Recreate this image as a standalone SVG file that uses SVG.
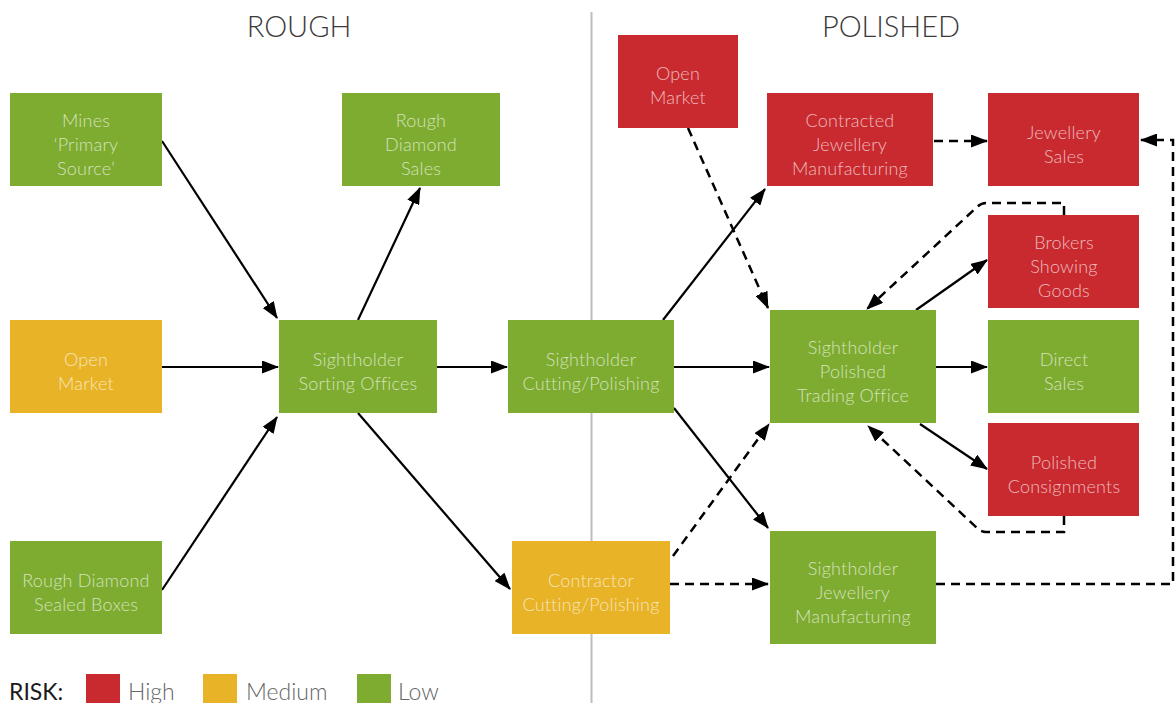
<svg xmlns="http://www.w3.org/2000/svg" width="1176" height="703" viewBox="0 0 1176 703">
<style>
.box text{font-family:Lato,"Open Sans","Liberation Sans",sans-serif;font-weight:300;font-size:18px;fill:#fff;fill-opacity:0.68;text-anchor:middle;letter-spacing:0.2px}
.g{fill:#7dac30}.y{fill:#e8b327}.r{fill:#c92a2f}
.title{font-family:Lato,"Open Sans","Liberation Sans",sans-serif;font-weight:300;font-size:29px;fill:#3a3a3a;text-anchor:middle}
.leg{font-family:Lato,"Open Sans","Liberation Sans",sans-serif;font-weight:300;font-size:23px;fill:#666}
.solid{fill:none;stroke:#000;stroke-width:2.2;marker-end:url(#ah)}
.dash{fill:none;stroke:#000;stroke-width:2.5;stroke-dasharray:9 6;marker-end:url(#ah)}
</style>
<defs>
<marker id="ah" markerUnits="userSpaceOnUse" markerWidth="17" markerHeight="13" refX="16" refY="6.5" orient="auto">
<path d="M0,0 L17,6.5 L0,13 Z" fill="#000" stroke="none"/>
</marker>
</defs>
<rect width="1176" height="703" fill="#fff"/>
<line x1="591.5" y1="12" x2="591.5" y2="703" stroke="#bdbdbd" stroke-width="2"/>
<text class="title" x="299" y="37">ROUGH</text>
<text class="title" x="891" y="37">POLISHED</text>

<g id="connectors">
<path class="solid" d="M162,141 L277,318"/>
<path class="solid" d="M162,367 L278,367"/>
<path class="solid" d="M162,590 L277,417"/>
<path class="solid" d="M358,320 L420,188"/>
<path class="solid" d="M437,367 L507,367"/>
<path class="solid" d="M358,413 L510,589"/>
<path class="solid" d="M663,320 L765,189"/>
<path class="solid" d="M674,367 L769,367"/>
<path class="solid" d="M674,408 L768,528"/>
<path class="solid" d="M916,310 L987,260"/>
<path class="solid" d="M936,367 L987,367"/>
<path class="solid" d="M920,424 L987,469"/>
<path class="dash" d="M688,128 L768,308"/>
<path class="dash" d="M934,141 L987,141"/>
<path class="dash" d="M1064,215 V203 H986 Q981,203 977,207 L867,309"/>
<path class="dash" d="M1064,516 V532 H986 Q981,532 977,528 L868,426"/>
<path class="dash" d="M673,556 L769,424"/>
<path class="dash" d="M670,584 L768,584"/>
<path class="dash" d="M936,584 H1173 V140 H1141"/>
</g>

<g id="mines" class="box"><rect class="g" x="10" y="93" width="152" height="93"/>
<text x="86" y="127">Mines</text><text x="86" y="151">‘Primary</text><text x="86" y="175">Source’</text></g>
<g id="rough-diamond-sales" class="box"><rect class="g" x="342" y="93" width="158" height="93"/>
<text x="421" y="127">Rough</text><text x="421" y="151">Diamond</text><text x="421" y="175">Sales</text></g>
<g id="open-market-rough" class="box"><rect class="y" x="10" y="320" width="152" height="93"/>
<text x="86" y="366">Open</text><text x="86" y="390">Market</text></g>
<g id="sealed-boxes" class="box"><rect class="g" x="10" y="541" width="152" height="93"/>
<text x="86" y="587">Rough Diamond</text><text x="86" y="611">Sealed Boxes</text></g>
<g id="sorting-offices" class="box"><rect class="g" x="279" y="320" width="158" height="93"/>
<text x="358" y="366">Sightholder</text><text x="358" y="390">Sorting Offices</text></g>
<g id="sightholder-cutting" class="box"><rect class="g" x="508" y="320" width="166" height="93"/>
<text x="591" y="366">Sightholder</text><text x="591" y="390">Cutting/Polishing</text></g>
<g id="contractor-cutting" class="box"><rect class="y" x="512" y="541" width="158" height="93"/>
<text x="591" y="587">Contractor</text><text x="591" y="611">Cutting/Polishing</text></g>
<g id="open-market-polished" class="box"><rect class="r" x="618" y="35" width="120" height="93"/>
<text x="678" y="80">Open</text><text x="678" y="104">Market</text></g>
<g id="contracted-jewellery" class="box"><rect class="r" x="767" y="93" width="166" height="93"/>
<text x="850" y="127">Contracted</text><text x="850" y="151">Jewellery</text><text x="850" y="175">Manufacturing</text></g>
<g id="jewellery-sales" class="box"><rect class="r" x="988" y="93" width="151" height="93"/>
<text x="1064" y="139">Jewellery</text><text x="1064" y="163">Sales</text></g>
<g id="brokers" class="box"><rect class="r" x="988" y="215" width="151" height="93"/>
<text x="1064" y="249">Brokers</text><text x="1064" y="273">Showing</text><text x="1064" y="297">Goods</text></g>
<g id="trading-office" class="box"><rect class="g" x="770" y="310" width="166" height="113"/>
<text x="853" y="354">Sightholder</text><text x="853" y="378">Polished</text><text x="853" y="402">Trading Office</text></g>
<g id="direct-sales" class="box"><rect class="g" x="988" y="320" width="151" height="93"/>
<text x="1064" y="366">Direct</text><text x="1064" y="390">Sales</text></g>
<g id="polished-consignments" class="box"><rect class="r" x="988" y="423" width="151" height="93"/>
<text x="1064" y="469">Polished</text><text x="1064" y="493">Consignments</text></g>
<g id="jewellery-manufacturing" class="box"><rect class="g" x="770" y="531" width="166" height="113"/>
<text x="853" y="575">Sightholder</text><text x="853" y="599">Jewellery</text><text x="853" y="623">Manufacturing</text></g>

<g id="legend">
<text x="9" y="700" style="font-family:Lato,'Open Sans','Liberation Sans',sans-serif;font-size:23px;fill:#1a1a1a;font-weight:400">RISK:</text>
<rect class="r" x="86" y="674" width="34" height="29"/>
<text class="leg" x="128" y="700">High</text>
<rect class="y" x="203" y="674" width="34" height="29"/>
<text class="leg" x="246" y="700">Medium</text>
<rect class="g" x="357" y="674" width="34" height="29"/>
<text class="leg" x="398" y="700">Low</text>
</g>
</svg>
